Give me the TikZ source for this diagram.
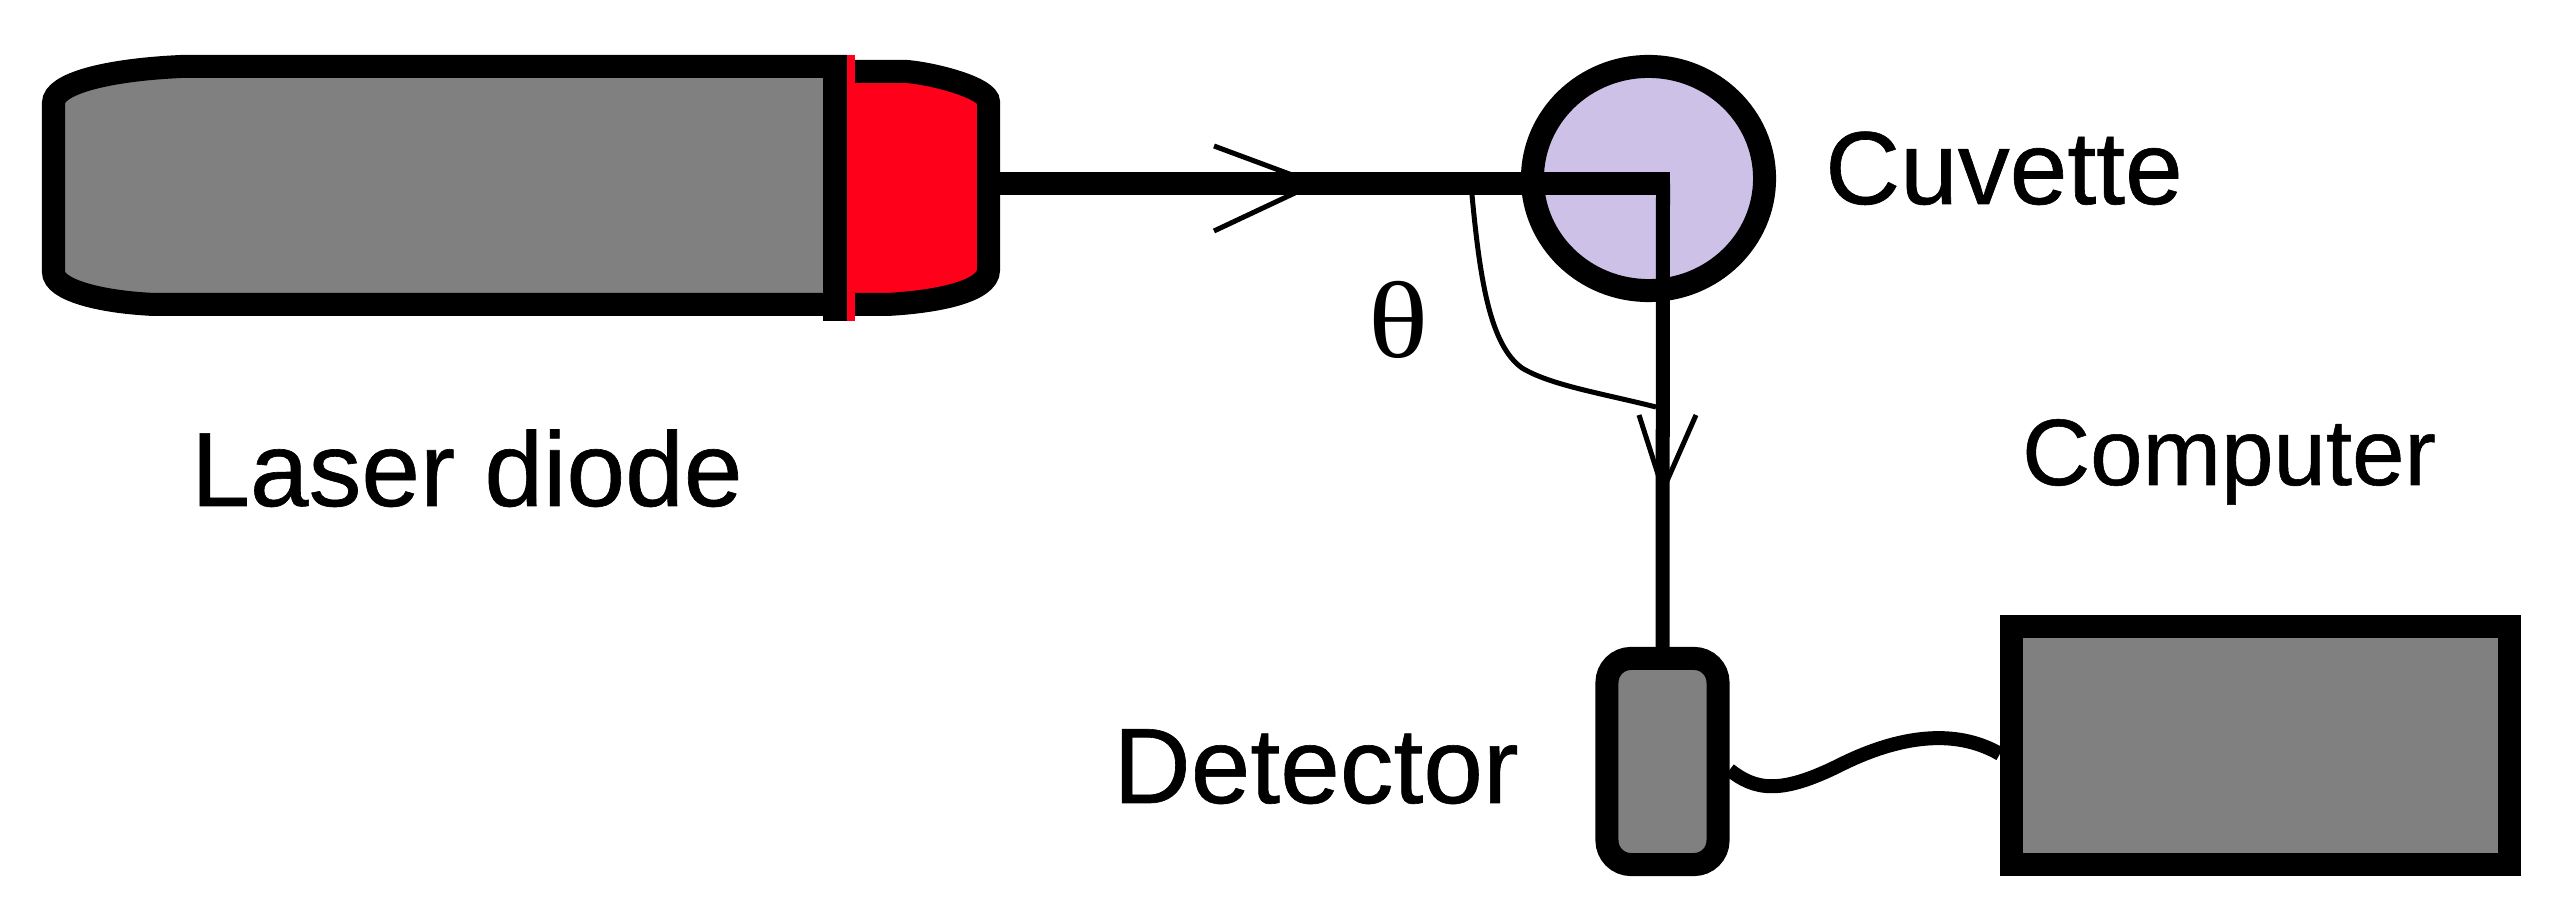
\documentclass[tikz,border=0pt]{standalone}
\usepackage{fontspec}
\setmainfont[FakeBold=0.6]{Liberation Sans}
\newfontfamily\thetafont{Liberation Serif}
\usetikzlibrary{shapes.geometric}
\definecolor{bodygray}{HTML}{808080}
\definecolor{capred}{HTML}{FF001B}
\definecolor{cuvettelilac}{HTML}{CDC1E8}

\begin{document}
\begin{tikzpicture}
        [x=0.01cm, y=-0.01cm,
        BoxLine/.style={draw=black, line width=0.23cm},
        BeamLine/.style={draw=black, line width=0.14cm},
        ThinLine/.style={draw=black, line width=0.05cm},
        BoxNode/.style={rectangle, BoxLine, fill=bodygray, inner sep=0pt},
        TextNode/.style={anchor=base, inner sep=0pt}]

        % page size
        \useasboundingbox (0,0) rectangle (2560,919);

        % laser diode: cap, body, front plate
        \draw[BoxLine, fill=capred] (851,71.5) -- (907,71.5) .. controls (935,74) and (988.5,88) .. (988.5,102)
            -- (988.5,270) .. controls (988.5,292) and (935,302) .. (887,304.5) -- (851,304.5);
        \draw[BoxLine, fill=bodygray] (835,66.5) -- (181,66.5) .. controls (105,70) and (53.5,84) .. (53.5,103)
            -- (53.5,272) .. controls (53.5,290) and (100,302) .. (154,304.5) -- (835,304.5) -- cycle;
        \fill[black] (823,55) rectangle (847,321);
        \fill[capred] (847,55) rectangle (855,83);
        \fill[capred] (847,83) rectangle (851,321);
        \fill[capred] (851,293) rectangle (855,321);
        \coordinate (laser_out) at (1000,183.5);

        % cuvette, detector, computer
        \node[ellipse, BoxLine, fill=cuvettelilac, inner sep=0pt, minimum width=2.32cm, minimum height=2.24cm] (cuvette) at (1648.5,178.5) {};
        \node[BoxNode, rounded corners=0.24cm, minimum width=1.11cm, minimum height=2.06cm] (det) at (1662.5,761.5) {};
        \node[BoxNode, minimum width=4.98cm, minimum height=2.38cm] (comp) at (2260.5,745.5) {};

        % arrow on the beam
        \coordinate (tip_a) at (1315,183.5);
        \foreach \y in {146,231}
            \coordinate (barb_a\y) at (1214,\y);
        \foreach \y in {146,231}
            \draw[ThinLine] (barb_a\y)--(tip_a);

        % arrow on the vertical beam
        \coordinate (tip_b) at (1663,490);
        \foreach \x in {1639,1696}
            \coordinate (barb_b\x) at (\x,415);
        \foreach \x in {1639,1696}
            \draw[ThinLine] (barb_b\x)--(tip_b);

        % beam
        \coordinate (beam_end) at (1670,183.5);
        \coordinate (beam_bend) at (1663,183.5);
        \draw[BoxLine] (laser_out)--(beam_end);
        \draw[BeamLine] (beam_bend)--(det.north);

        % cable
        \draw[BeamLine] ([yshift=-2.4pt]det.east) .. controls (1755,790) and (1780,795) .. (1840,765)
            .. controls (1890,740) and (1950,725) .. ([yshift=-2.4pt]comp.west);

        % angle mark
        \coordinate (angle_a) at (1472,195);
        \coordinate (angle_b) at (1656,407);
        \draw[ThinLine] (angle_a) .. controls (1480,280) and (1490,345) .. (1522,368)
            .. controls (1550,385) and (1600,393) .. (angle_b);

        % text
        \node[TextNode, font=\fontsize{30}{36}\selectfont] (laser_text) at (467,506) {Laser diode};
        \node[TextNode, font=\fontsize{29.5}{36}\selectfont] (cuvette_text) at (2004,204) {Cuvette};
        \node[TextNode, font=\fontsize{26.8}{32}\selectfont] (comp_text) at (2229,485) {Computer};
        \node[TextNode, font=\fontsize{30.5}{36}\selectfont] (det_text) at (1316,803) {Detector};
        \node[TextNode, xscale=1.15, font=\fontsize{31}{36}\selectfont\thetafont] (theta_text) at (1399,358) {θ};
    \end{tikzpicture}
\end{document}
